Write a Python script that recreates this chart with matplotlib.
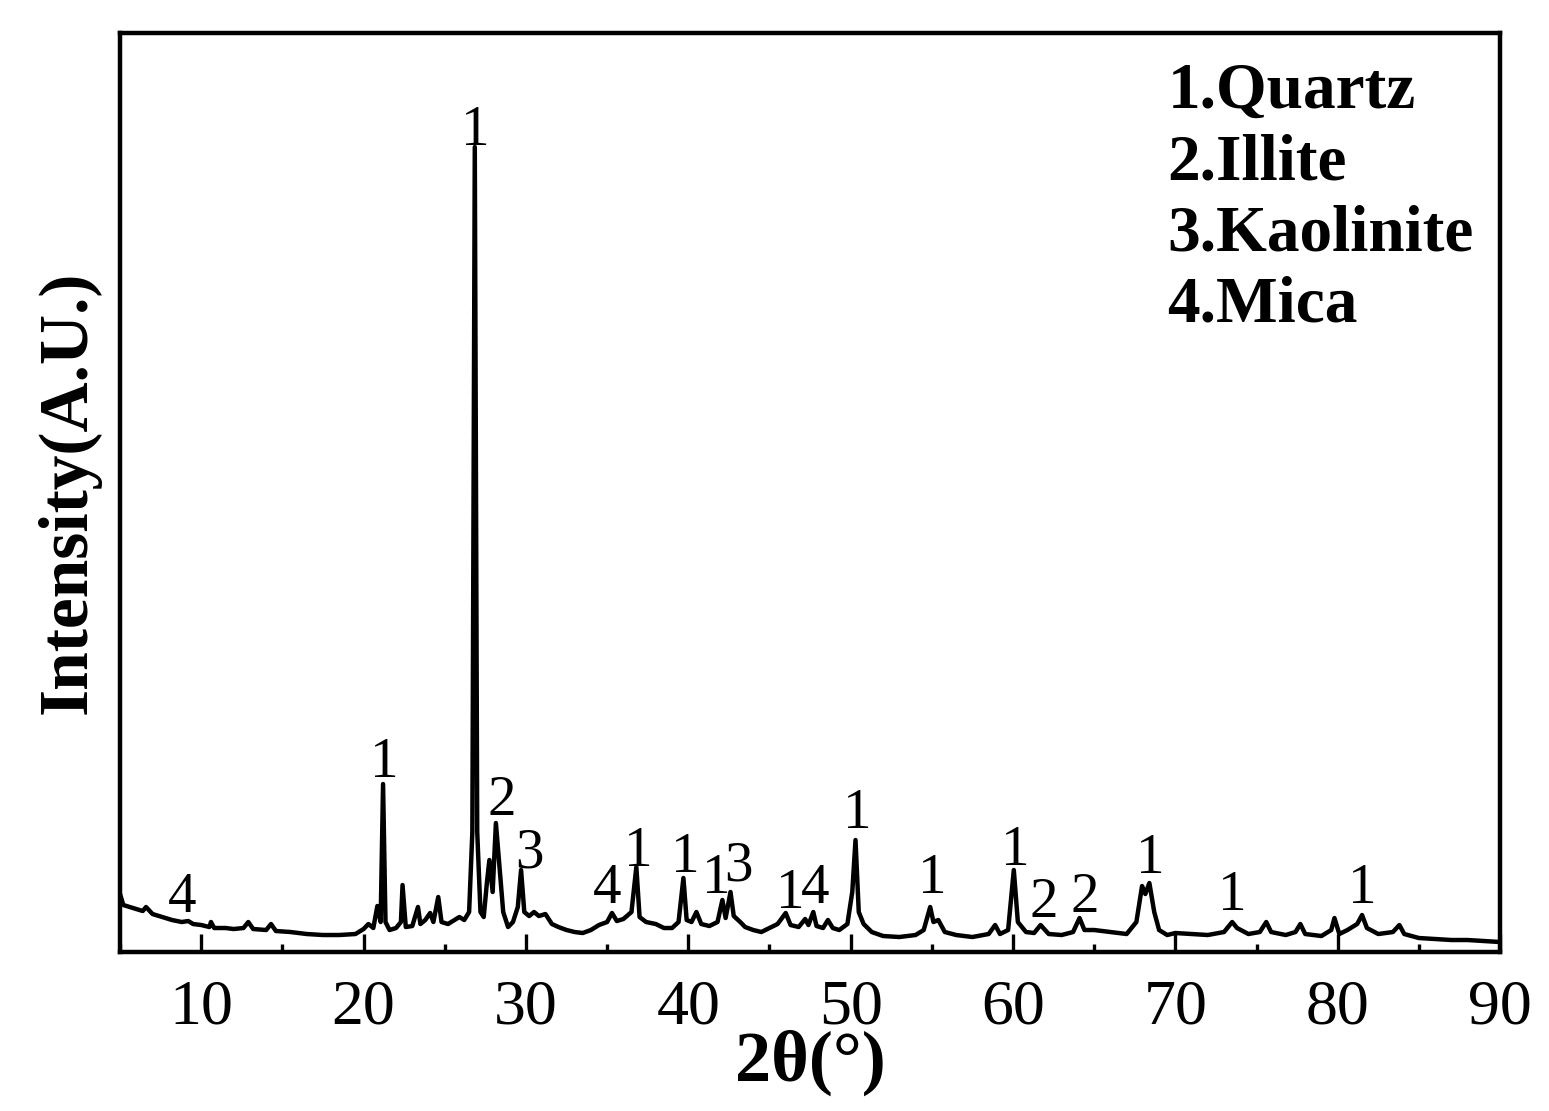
import numpy as np
import matplotlib
matplotlib.use('Agg')
import matplotlib.pyplot as plt
from matplotlib.ticker import MultipleLocator

plt.rcParams['font.family'] = ['Liberation Serif', 'DejaVu Serif']

# XRD pattern (2theta in degrees, intensity in arbitrary units)
two_theta = [5.0, 5.2, 5.8, 6.4, 6.6, 7.0, 7.6, 8.2, 8.8, 9.2, 9.5, 10.0, 10.5, 10.6, 10.8,
             11.5, 12.0, 12.6, 12.9, 13.2, 14.0, 14.3, 14.6, 15.5, 16.5, 17.5, 18.5, 19.5,
             20.0, 20.3, 20.6, 20.85, 21.05, 21.2, 21.35, 21.6, 22.0, 22.3, 22.4, 22.6, 23.0,
             23.35, 23.5, 23.8, 24.1, 24.3, 24.6, 24.8, 25.2, 25.6, 25.9, 26.2, 26.5, 26.7,
             26.85, 27.0, 27.2, 27.4, 27.6, 27.75, 27.95, 28.15, 28.35, 28.6, 28.9, 29.2,
             29.5, 29.7, 29.9, 30.2, 30.5, 30.8, 31.2, 31.6, 32.0, 32.5, 33.0, 33.5, 34.0,
             34.5, 35.0, 35.3, 35.6, 36.0, 36.5, 36.8, 37.0, 37.4, 38.0, 38.5, 39.0, 39.4,
             39.7, 39.9, 40.2, 40.5, 40.8, 41.3, 41.8, 42.1, 42.3, 42.6, 42.8, 43.2, 43.5,
             44.0, 44.5, 45.0, 45.5, 46.0, 46.3, 46.8, 47.2, 47.4, 47.7, 47.9, 48.3, 48.6,
             48.9, 49.3, 49.8, 50.1, 50.3, 50.5, 50.8, 51.3, 52.0, 53.0, 54.0, 54.5, 54.9,
             55.1, 55.4, 55.8, 56.5, 57.5, 58.5, 58.9, 59.2, 59.7, 60.05, 60.3, 60.8, 61.3,
             61.7, 62.2, 63.0, 63.7, 64.1, 64.4, 65.0, 66.0, 67.0, 67.6, 67.95, 68.15,
             68.4, 68.7, 69.0, 69.5, 70.0, 71.0, 72.0, 73.0, 73.5, 73.8, 74.5, 75.2, 75.6,
             75.9, 76.8, 77.4, 77.7, 78.0, 79.0, 79.6, 79.8, 80.1, 80.6, 81.2, 81.5, 81.8,
             82.5, 83.4, 83.8, 84.1, 85.0, 86.0, 87.0, 88.0, 89.0, 90.0]
intensity = [58, 47, 44, 41, 45, 38, 35, 32, 30, 31, 28, 27, 25, 30, 24,
             24, 23, 24, 30, 23, 22, 28, 21, 20, 18, 17, 17, 18,
             23, 28, 24, 46, 30, 168, 30, 22, 24, 30, 67, 25, 26,
             45, 28, 32, 39, 30, 55, 30, 28, 32, 35, 32, 40, 120,
             805, 120, 40, 35, 70, 92, 60, 129, 90, 40, 25, 30,
             45, 82, 40, 36, 40, 36, 38, 28, 25, 22, 20, 19, 22,
             27, 30, 39, 31, 33, 40, 85, 35, 30, 28, 24, 24, 30,
             74, 32, 30, 40, 28, 26, 30, 52, 34, 60, 36, 30, 25,
             22, 20, 24, 28, 39, 27, 25, 33, 27, 40, 26, 24, 32,
             24, 22, 28, 60, 112, 40, 28, 20, 16, 15, 17, 22, 45,
             30, 32, 20, 17, 15, 18, 27, 18, 22, 82, 30, 20, 19,
             27, 18, 17, 20, 34, 22, 22, 20, 18, 30, 66, 58,
             69, 40, 22, 17, 19, 18, 17, 20, 30, 24, 18, 20, 30,
             20, 17, 20, 28, 18, 16, 22, 34, 18, 22, 28, 37, 24,
             18, 20, 27, 18, 14, 13, 12, 12, 11, 10]

# phase labels above the peaks
label_text = ['4', '1', '1', '2', '3', '4', '1', '1', '1', '3', '1', '4', '1', '1', '1',
              '2', '2', '1', '1', '1']
label_x = [8.85, 21.25, 26.9, 28.5, 30.2, 35.0, 36.9, 39.8, 41.7, 43.1, 46.3, 47.8, 50.4,
           55.05, 60.15, 61.9, 64.4, 68.45, 73.5, 81.5]
label_y = [40, 175, 807, 137, 85, 49, 86, 80, 59, 72, 44, 49, 124, 59, 87, 35, 40, 79, 42, 49]

legend_lines = ['1.Quartz', '2.Illite', '3.Kaolinite', '4.Mica']

fig = plt.figure(figsize=(15.49, 11.11), dpi=100)
ax = fig.add_axes([0.0775, 0.1431, 0.8909, 0.8272])

ax.plot(two_theta, intensity, color='black', lw=3.2)

for t, x, y in zip(label_text, label_x, label_y):
    ax.text(x, y, t, ha='center', va='baseline', fontsize=41)

for i, s in enumerate(legend_lines):
    ax.text(0.759, 0.9184 - i * 0.0773, s, transform=ax.transAxes, ha='left',
            va='baseline', fontsize=47, fontweight='bold')

ax.set_xlim(5, 90)
ax.set_ylim(0, 919)
ax.xaxis.set_major_locator(MultipleLocator(10))
ax.xaxis.set_minor_locator(MultipleLocator(5))
ax.tick_params(axis='x', which='major', direction='in', length=13, width=2.4,
               labelsize=46, pad=20)
ax.tick_params(axis='x', which='minor', direction='in', length=6, width=2.4)
ax.set_yticks([])
for sp in ax.spines.values():
    sp.set_linewidth(3.2)

ax.set_xlabel('2θ(°)', fontsize=52, fontweight='bold', labelpad=-6)
ax.set_ylabel('Intensity(A.U.)', fontsize=50, fontweight='bold', labelpad=14)

fig.savefig('out.png', dpi=100)
